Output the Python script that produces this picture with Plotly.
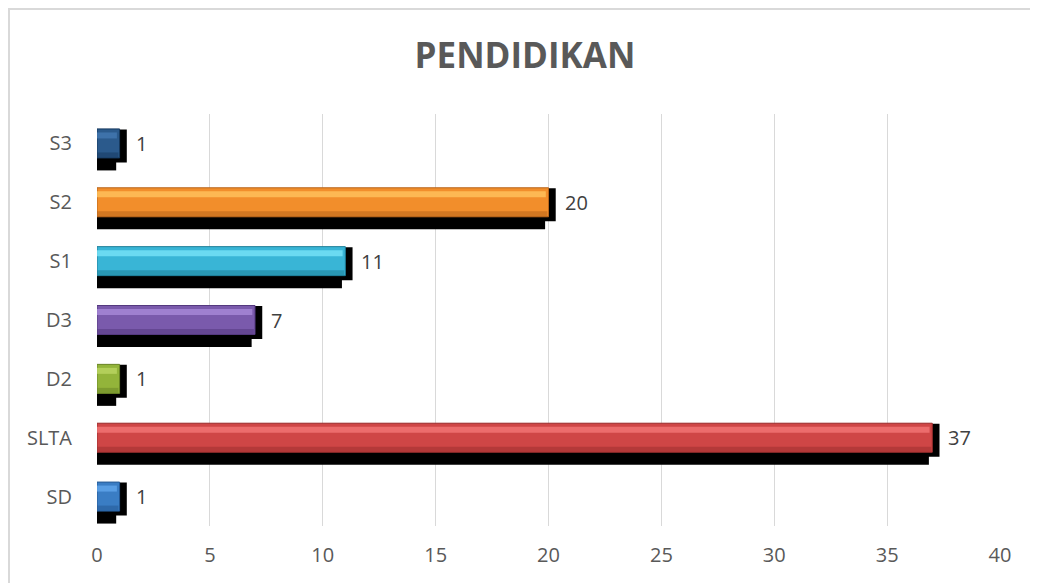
import plotly.graph_objects as go

# ---- data ----
categories = ["SD", "SLTA", "D2", "D3", "S1", "S2", "S3"]
values = [1, 37, 1, 7, 11, 20, 1]
colors = ["#3A7DC4", "#CF4646", "#93B43A", "#7A5AAC", "#39B5D6", "#F28E2B", "#2B5A8C"]
highlights = ["#62A6EC", "#F27676", "#BCD663", "#A98AD9", "#78E3F7", "#FFC35E", "#4478B2"]
darks = ["#245A96", "#9E2F2F", "#6B8726", "#54397F", "#1E7F99", "#B8641A", "#173A60"]
x_ticks = [0, 5, 10, 15, 20, 25, 30, 35, 40]
title_text = "PENDIDIKAN"

# page body has an 8px margin; figure coordinates are screen coordinates minus 8
OFF = 8
W, H = 1038, 583
L = 97 - OFF
T = 114 - OFF
R = W - (1000 - OFF)
B = H - (526 - OFF)
pw, ph = W - L - R, H - T - B
ypos = list(range(len(categories)))
upx = ph / len(categories)  # pixels per category unit


def du(px):
    return px / upx


fig = go.Figure()

# shadow: right part and bottom part
fig.add_trace(go.Bar(
    y=ypos, x=[v + 0.32 for v in values], orientation="h",
    offset=-du(19), width=du(33), marker=dict(color="black", line=dict(width=0)),
    hoverinfo="skip", showlegend=False))
fig.add_trace(go.Bar(
    y=ypos, x=[v - 0.15 for v in values], orientation="h",
    offset=-du(27), width=du(27), marker=dict(color="black", line=dict(width=0)),
    hoverinfo="skip", showlegend=False))

# main bars
fig.add_trace(go.Bar(
    y=ypos, x=values, orientation="h",
    offset=-du(14.5), width=du(29), marker=dict(color=colors, line=dict(color=darks, width=1)),
    showlegend=False))
# bottom darker band
fig.add_trace(go.Bar(
    y=ypos, x=[v - 0.05 for v in values], orientation="h",
    offset=-du(14), width=du(5), marker=dict(color=darks, opacity=0.55, line=dict(width=0)),
    hoverinfo="skip", showlegend=False))
# top highlight band
fig.add_trace(go.Bar(
    y=ypos, x=[v - 0.12 for v in values], orientation="h",
    offset=du(5), width=du(6), marker=dict(color=highlights, opacity=0.8, line=dict(width=0)),
    hoverinfo="skip", showlegend=False))

annotations = []
for yv, v in zip(ypos, values):
    annotations.append(dict(
        x=v, y=yv, xref="x", yref="y", text=str(v), showarrow=False,
        xanchor="left", yanchor="middle", xshift=14,
        font=dict(family="Open Sans", size=20, color="#404040")))


def xp(px):
    return (px - OFF - L) / pw


def yp(py):
    return (H - B - (py - OFF)) / ph


shapes = [
    dict(type="line", xref="paper", yref="paper", x0=xp(9), x1=xp(9), y0=yp(8), y1=yp(620),
         line=dict(color="#d9d9d9", width=2), layer="below"),
    dict(type="line", xref="paper", yref="paper", x0=xp(9), x1=xp(1080), y0=yp(9), y1=yp(9),
         line=dict(color="#d9d9d9", width=2), layer="below"),
]

fig.update_layout(
    width=W, height=H, autosize=False,
    margin=dict(l=L, r=R, t=T, b=B),
    paper_bgcolor="white", plot_bgcolor="white",
    barmode="overlay",
    title=dict(text="<b>" + title_text + "</b>", x=(525 - OFF) / W, xanchor="center",
               y=1 - (56 - OFF) / H, yanchor="middle",
               font=dict(family="Open Sans", size=35, color="#595959")),
    xaxis=dict(range=[0, 40], tickvals=x_ticks, showgrid=True, gridcolor="#d9d9d9",
               gridwidth=1, zeroline=False, showline=False, ticks="",
               ticklabelstandoff=15,
               tickfont=dict(family="Open Sans", size=20, color="#595959")),
    yaxis=dict(range=[-0.5, len(categories) - 0.5], tickvals=ypos, ticktext=categories,
               showgrid=False, zeroline=False, showline=False, ticks="",
               ticklabelstandoff=24,
               tickfont=dict(family="Open Sans", size=20, color="#595959")),
    annotations=annotations, shapes=shapes,
    font=dict(family="Open Sans"),
)

fig.write_html("out.html", config={"displayModeBar": False})
